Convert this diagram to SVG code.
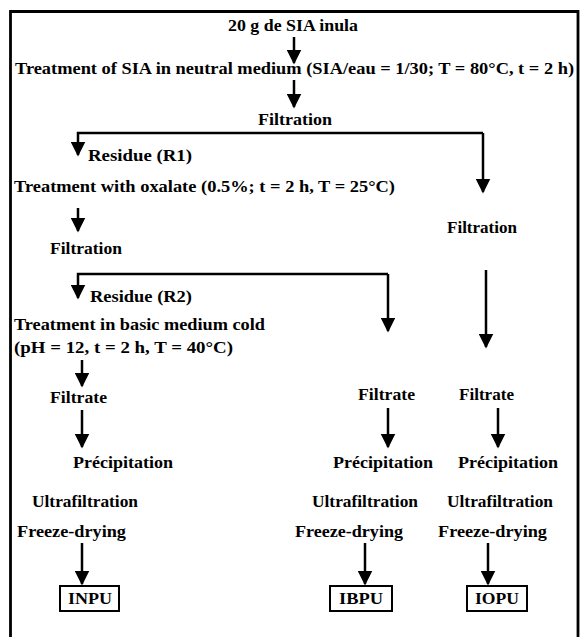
<svg xmlns="http://www.w3.org/2000/svg" width="581" height="637" viewBox="0 0 581 637">
<defs>
<style>
.t{font-family:'Liberation Serif','Times New Roman',Times,serif;font-weight:700;font-size:17px;fill:#000}
.ln{fill:none;stroke:#000;stroke-width:2.5}
.box{fill:#fff;stroke:#000;stroke-width:2}
</style>
<marker id="ah" viewBox="0 0 10 10" refX="9" refY="5" markerWidth="6" markerHeight="6" markerUnits="strokeWidth" orient="auto">
<path d="M0,0 L10,5 L0,10 Z" fill="#000"/>
</marker>
</defs>
<rect x="0" y="0" width="581" height="637" fill="#fff"/>
<path d="M10.5,645 V11.5 H578 V645" fill="none" stroke="#000" stroke-width="2.8"/>
<g id="connectors">
<path class="ln" d="M294,37 V63" marker-end="url(#ah)"/>
<path class="ln" d="M294,80 V107" marker-end="url(#ah)"/>
<path class="ln" d="M483,133 H78 V155" marker-end="url(#ah)"/>
<path class="ln" d="M483,133 V192" marker-end="url(#ah)"/>
<path class="ln" d="M78,208 V231" marker-end="url(#ah)"/>
<path class="ln" d="M388,274 H78 V298" marker-end="url(#ah)"/>
<path class="ln" d="M388,274 V331" marker-end="url(#ah)"/>
<path class="ln" d="M486,270 V347" marker-end="url(#ah)"/>
<path class="ln" d="M82,360 V386" marker-end="url(#ah)"/>
<path class="ln" d="M82,410 V447" marker-end="url(#ah)"/>
<path class="ln" d="M388,408 V447" marker-end="url(#ah)"/>
<path class="ln" d="M498,408 V447" marker-end="url(#ah)"/>
<path class="ln" d="M82,543 V584" marker-end="url(#ah)"/>
<path class="ln" d="M365,543 V584" marker-end="url(#ah)"/>
<path class="ln" d="M488,543 V584" marker-end="url(#ah)"/>
</g>
<g font-family="'Liberation Serif', 'Times New Roman', serif" font-weight="bold" font-size="17">
<g id="n-start"><text class="t" x="228" y="31" textLength="130" lengthAdjust="spacingAndGlyphs">20 g de SIA inula</text></g>
<g id="n-treat1"><text class="t" x="15" y="74" textLength="559" lengthAdjust="spacingAndGlyphs">Treatment of SIA in neutral medium (SIA/eau = 1/30; T = 80°C, t = 2 h)</text></g>
<g id="n-filt1"><text class="t" x="258" y="125" textLength="74" lengthAdjust="spacingAndGlyphs">Filtration</text></g>
<g id="n-r1"><text class="t" x="88" y="161" textLength="104" lengthAdjust="spacingAndGlyphs">Residue (R1)</text></g>
<g id="n-treat2"><text class="t" x="14" y="192" textLength="381" lengthAdjust="spacingAndGlyphs">Treatment with oxalate (0.5%; t = 2 h, T = 25°C)</text></g>
<g id="n-filt2"><text class="t" x="50" y="254" textLength="72" lengthAdjust="spacingAndGlyphs">Filtration</text></g>
<g id="n-filt3"><text class="t" x="447" y="233" textLength="70" lengthAdjust="spacingAndGlyphs">Filtration</text></g>
<g id="n-r2"><text class="t" x="90" y="302" textLength="102" lengthAdjust="spacingAndGlyphs">Residue (R2)</text></g>
<g id="n-treat3"><text class="t" x="14" y="330" textLength="251" lengthAdjust="spacingAndGlyphs">Treatment in basic medium cold</text><text class="t" x="14" y="353" textLength="219" lengthAdjust="spacingAndGlyphs">(pH = 12, t = 2 h, T = 40°C)</text></g>
<g id="n-filtrate1"><text class="t" x="50" y="403" textLength="57" lengthAdjust="spacingAndGlyphs">Filtrate</text></g>
<g id="n-filtrate2"><text class="t" x="358" y="400" textLength="57" lengthAdjust="spacingAndGlyphs">Filtrate</text></g>
<g id="n-filtrate3"><text class="t" x="459" y="400" textLength="55" lengthAdjust="spacingAndGlyphs">Filtrate</text></g>
<g id="n-prec1"><text class="t" x="73" y="468" textLength="100" lengthAdjust="spacingAndGlyphs">Précipitation</text></g>
<g id="n-prec2"><text class="t" x="333" y="468" textLength="100" lengthAdjust="spacingAndGlyphs">Précipitation</text></g>
<g id="n-prec3"><text class="t" x="458" y="468" textLength="100" lengthAdjust="spacingAndGlyphs">Précipitation</text></g>
<g id="n-ultra1"><text class="t" x="32" y="507" textLength="106" lengthAdjust="spacingAndGlyphs">Ultrafiltration</text></g>
<g id="n-ultra2"><text class="t" x="312" y="507" textLength="106" lengthAdjust="spacingAndGlyphs">Ultrafiltration</text></g>
<g id="n-ultra3"><text class="t" x="447" y="507" textLength="106" lengthAdjust="spacingAndGlyphs">Ultrafiltration</text></g>
<g id="n-fd1"><text class="t" x="17" y="537" textLength="109" lengthAdjust="spacingAndGlyphs">Freeze-drying</text></g>
<g id="n-fd2"><text class="t" x="295" y="537" textLength="108" lengthAdjust="spacingAndGlyphs">Freeze-drying</text></g>
<g id="n-fd3"><text class="t" x="438" y="537" textLength="109" lengthAdjust="spacingAndGlyphs">Freeze-drying</text></g>
<g id="n-inpu"><rect class="box" x="60" y="586" width="59" height="25"/><text class="t" x="68" y="604" textLength="44" lengthAdjust="spacingAndGlyphs">INPU</text></g>
<g id="n-ibpu"><rect class="box" x="330" y="586" width="62" height="25"/><text class="t" x="339" y="604" textLength="44" lengthAdjust="spacingAndGlyphs">IBPU</text></g>
<g id="n-iopu"><rect class="box" x="467" y="586" width="60" height="25"/><text class="t" x="475" y="604" textLength="44" lengthAdjust="spacingAndGlyphs">IOPU</text></g>
</g>
</svg>
